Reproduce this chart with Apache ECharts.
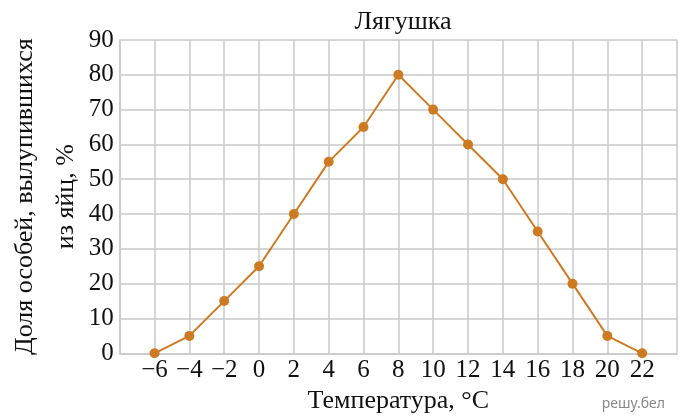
<!DOCTYPE html>
<html>
<head>
<meta charset="utf-8">
<script src="https://cdn.jsdelivr.net/npm/echarts@6/dist/echarts.min.js"></script>
<style>
html,body{margin:0;padding:0;background:#fff;}
#chart{width:679px;height:419px;}
</style>
</head>
<body>
<div id="chart"></div>
<script>
const temperatures = [-6, -4, -2, 0, 2, 4, 6, 8, 10, 12, 14, 16, 18, 20, 22];
const hatchPercent = [0, 5, 15, 25, 40, 55, 65, 80, 70, 60, 50, 35, 20, 5, 0];
const xTickLabels = ['−6','−4','−2','0','2','4','6','8','10','12','14','16','18','20','22'];
const yTicks = [0, 10, 20, 30, 40, 50, 60, 70, 80, 90];

const serif = '"Liberation Serif", "DejaVu Serif", serif';
const chart = echarts.init(document.getElementById('chart'));
const labelMap = {};
temperatures.forEach((t, i) => { labelMap[t] = xTickLabels[i]; });

chart.setOption({
  animation: false,
  backgroundColor: '#fff',
  title: {
    text: 'Лягушка',
    left: 398, top: 4,
    textAlign: 'center',
    textStyle: {fontFamily: serif, fontWeight: 'normal', fontSize: 26, color: '#111'}
  },
  grid: {left: 119.7, right: 2, top: 40, bottom: 65.7, outerBoundsMode: 'none', containLabel: false},
  xAxis: {
    type: 'value', min: -8, max: 24, interval: 2,
    name: 'Температура, °С', nameLocation: 'middle', nameGap: 35, nameMoveOverlap: false,
    nameTextStyle: {fontFamily: serif, fontSize: 26, color: '#111'},
    axisLine: {show: true, onZero: false, lineStyle: {color: '#c8c8c8', width: 1.5}},
    axisTick: {show: false},
    splitLine: {show: true, lineStyle: {color: '#c8c8c8', width: 1.5}},
    axisLabel: {
      fontFamily: serif, fontSize: 25, color: '#111', margin: 5,
      showMinLabel: true, showMaxLabel: true,
      formatter: v => (labelMap[v] !== undefined ? labelMap[v] : '')
    }
  },
  yAxis: {
    type: 'value', min: 0, max: 90, interval: 10,
    name: 'Доля особей, вылупившихся\nиз яйц, %', nameLocation: 'middle', nameGap: 33, nameRotate: 90,
    nameMoveOverlap: false,
    nameTextStyle: {fontFamily: serif, fontSize: 26, color: '#111', lineHeight: 41},
    axisLine: {show: true, onZero: false, lineStyle: {color: '#c8c8c8', width: 1.5}},
    axisTick: {show: false},
    splitLine: {show: true, lineStyle: {color: '#c8c8c8', width: 1.5}},
    axisLabel: {fontFamily: serif, fontSize: 25, color: '#111', margin: 6,
      formatter: v => (yTicks.indexOf(v) >= 0 ? String(v) : '')}
  },
  graphic: [{
    type: 'text', right: 14, bottom: 8,
    style: {text: 'решу.бел', fontFamily: '"Noto Sans", sans-serif', fontSize: 14, fill: '#888'}
  }],
  series: [{
    type: 'line',
    data: temperatures.map((t, i) => [t, hatchPercent[i]]),
    symbol: 'circle', symbolSize: 10,
    lineStyle: {color: '#cd7a22', width: 2},
    itemStyle: {color: '#cd7a22'}
  }]
});
</script>
</body>
</html>
